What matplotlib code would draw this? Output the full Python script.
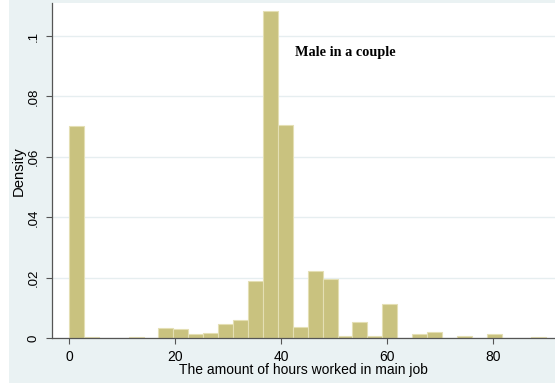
import numpy as np
import matplotlib
matplotlib.use("Agg")
import matplotlib.pyplot as plt

# Histogram of weekly hours in main job (density scale), 32 bins over 0-90
bin_start = 0.0
bin_width = 90 / 32
density = [
    0.0701, 0.0004, 0.0, 0.0, 0.0004, 0.0, 0.0033, 0.0030,
    0.0014, 0.0018, 0.0046, 0.0060, 0.0189, 0.1081, 0.0706, 0.0037,
    0.0223, 0.0195, 0.0008, 0.0054, 0.0007, 0.0114, 0.0, 0.0014,
    0.0020, 0.0, 0.0007, 0.0, 0.0013, 0.0, 0.0, 0.0003,
]
x_ticks = [0, 20, 40, 60, 80]
y_ticks = [0, 0.02, 0.04, 0.06, 0.08, 0.1]
y_tick_labels = ["0", ".02", ".04", ".06", ".08", ".1"]

BG = "#EAF2F3"
BAR = "#C9C27F"
BAR_EDGE = "#E4DFB4"
GRID = "#E6EEF0"

plt.rcParams["font.family"] = ["Liberation Sans", "DejaVu Sans"]

fig = plt.figure(figsize=(5.55, 3.83), dpi=100)
fig.patch.set_facecolor(BG)
# thin white strip down the left edge
fig.patches.append(plt.Rectangle((0, 0), 9 / 555, 1, transform=fig.transFigure,
                                 facecolor="white", edgecolor="none", zorder=-1))

ax = fig.add_axes([52 / 555, (383 - 338.3) / 383, 1 - 52 / 555, (338.3 - 3.3) / 383])
ax.set_facecolor("white")

edges = bin_start + bin_width * np.arange(len(density))
ax.bar(edges, density, width=bin_width, align="edge",
       color=BAR, edgecolor=BAR_EDGE, linewidth=0.8, zorder=2)

ax.set_xlim(-3.2, 91.63)
ax.set_ylim(0, 0.1108)

ax.set_yticks(y_ticks)
ax.set_yticklabels(y_tick_labels, rotation=90, va="center")
ax.set_xticks(x_ticks)
ax.tick_params(axis="both", direction="out", length=4.5, width=0.8,
               color="#555555", labelcolor="black")
ax.tick_params(axis="y", pad=4.5, labelsize=9.5)
ax.tick_params(axis="x", pad=4, labelsize=10)

ax.grid(axis="y", color=GRID, linewidth=1.0, zorder=0)
ax.set_axisbelow(True)

for side in ("top", "right"):
    ax.spines[side].set_visible(False)
for side in ("left", "bottom"):
    ax.spines[side].set_color("#555555")
    ax.spines[side].set_linewidth(0.9)

ax.set_ylabel("Density", fontsize=10.7, va="center")
ax.yaxis.set_label_coords(-33 / 503, 0.5)
ax.set_xlabel("The amount of hours worked in main job", fontsize=10, labelpad=-0.5)

ax.text(42.7, 0.0944, "Male in a couple", family="Liberation Serif",
        fontweight="bold", fontsize=10.3, ha="left", va="center", zorder=3)

fig.savefig("out.png", dpi=100, facecolor=fig.get_facecolor())
